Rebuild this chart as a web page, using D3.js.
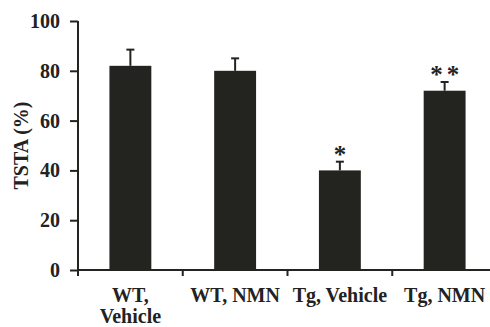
<!DOCTYPE html>
<html>
<head>
<meta charset="utf-8">
<script src="https://d3js.org/d3.v7.min.js"></script>
<style>
  body { margin: 0; background: #fff; }
  svg text { font-family: 'Liberation Serif', 'Times New Roman', serif; font-weight: bold; fill: #222; }
</style>
</head>
<body>
<svg id="chart" width="490" height="327"></svg>
<script>
// data
var groups = [["WT,", "Vehicle"], ["WT, NMN"], ["Tg, Vehicle"], ["Tg, NMN"]];
var means = [82, 80, 40, 72];
var errs = [6.5, 5, 3.5, 3.5];
var marks = ["", "", "*", "**"];
var yTicks = [0, 20, 40, 60, 80, 100];

var svg = d3.select("#chart"),
    ink = "#23231f",
    mLeft = 78, mRight = 497, mTop = 21, mBottom = 270,
    fs = 20;

var keys = groups.map(function (g) { return g.join(" "); });

var x = d3.scaleBand().domain(keys).range([mLeft, mRight]).padding(0);
var y = d3.scaleLinear().domain([0, 100]).range([mBottom, mTop]);
var barW = x.bandwidth() * 0.4;

// bars
svg.selectAll(".bar")
  .data(keys)
  .enter().append("rect")
    .attr("class", "bar")
    .attr("x", function (d) { return x(d) + (x.bandwidth() - barW) / 2; })
    .attr("y", function (d, i) { return y(means[i]); })
    .attr("width", barW)
    .attr("height", function (d, i) { return y(0) - y(means[i]); })
    .attr("fill", ink);

// error bars (upper only)
var eb = svg.selectAll(".err")
  .data(keys)
  .enter().append("g")
    .attr("class", "err")
    .attr("stroke", ink)
    .attr("stroke-width", 2);

eb.append("line")
  .attr("x1", function (d) { return x(d) + x.bandwidth() / 2; })
  .attr("x2", function (d) { return x(d) + x.bandwidth() / 2; })
  .attr("y1", function (d, i) { return y(means[i]); })
  .attr("y2", function (d, i) { return y(means[i] + errs[i]); });

eb.append("line")
  .attr("x1", function (d) { return x(d) + x.bandwidth() / 2 - 4; })
  .attr("x2", function (d) { return x(d) + x.bandwidth() / 2 + 4; })
  .attr("y1", function (d, i) { return y(means[i] + errs[i]); })
  .attr("y2", function (d, i) { return y(means[i] + errs[i]); });

// significance stars
svg.selectAll(".star")
  .data(keys)
  .enter().append("text")
    .attr("class", "star")
    .attr("x", function (d) { return x(d) + x.bandwidth() / 2 + 2; })
    .attr("y", function (d, i) { return y(means[i] + errs[i]) + 1; })
    .attr("text-anchor", "middle")
    .attr("font-size", 25)
    .attr("letter-spacing", 4)
    .text(function (d, i) { return marks[i]; });

// y axis
var yAxis = svg.append("g")
  .attr("transform", "translate(" + mLeft + ",0)")
  .call(d3.axisLeft(y).tickValues(yTicks).tickSize(8).tickSizeOuter(0).tickPadding(10));

yAxis.selectAll("text").attr("font-size", fs).attr("font-family", null).attr("fill", null);
yAxis.selectAll("path, line").attr("stroke", ink).attr("stroke-width", 2);
yAxis.select(".domain").attr("d", "M0," + (mBottom + 1) + "V" + mTop);

// x axis with ticks at group boundaries
var xAxis = svg.append("g")
  .attr("transform", "translate(0," + mBottom + ")");

xAxis.append("line")
  .attr("x1", mLeft - 1).attr("x2", mRight)
  .attr("y1", 0).attr("y2", 0);

xAxis.selectAll(".xt")
  .data(keys)
  .enter().append("line")
    .attr("class", "xt")
    .attr("x1", function (d) { return x(d); })
    .attr("x2", function (d) { return x(d); })
    .attr("y1", 0).attr("y2", 6);

xAxis.selectAll("line").attr("stroke", ink).attr("stroke-width", 2);

var xl = xAxis.selectAll(".xl")
  .data(groups)
  .enter().append("text")
    .attr("class", "xl")
    .attr("text-anchor", "middle")
    .attr("font-size", fs)
    .attr("x", function (d, i) { return x(keys[i]) + x.bandwidth() / 2; })
    .attr("y", 32);

xl.selectAll("tspan")
  .data(function (d) { return d; })
  .enter().append("tspan")
    .attr("x", function () { return d3.select(this.parentNode).attr("x"); })
    .attr("dy", function (d, i) { return i === 0 ? 0 : 21; })
    .text(function (d) { return d; });

// y title
svg.append("text")
  .attr("transform", "translate(28," + ((mTop + mBottom) / 2) + ") rotate(-90)")
  .attr("text-anchor", "middle")
  .attr("font-size", fs)
  .text("TSTA (%)");
</script>
</body>
</html>
